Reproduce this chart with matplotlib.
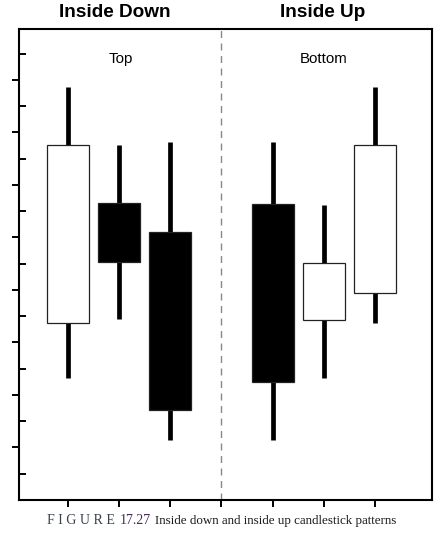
import matplotlib
matplotlib.use("Agg")
import matplotlib.pyplot as plt
from matplotlib.ticker import FixedLocator, NullFormatter

# ---- data ----
positions = [1, 2, 3, 5, 6, 7]
opens  = [3.38, 5.65, 5.10, 5.63, 3.43, 3.94]
highs  = [7.87, 6.76, 6.81, 6.81, 5.62, 7.87]
lows   = [2.32, 3.45, 1.14, 1.14, 2.33, 3.37]
closes = [6.76, 4.53, 1.71, 2.24, 4.52, 6.76]
separator = 4
group_titles = ["Inside Down", "Inside Up"]
group_title_x = [1.92, 5.97]
sub_labels = ["Top", "Bottom"]
sub_label_x = [2.03, 6.0]
xticks = [1, 2, 3, 4, 5, 6, 7]
major_yticks = [1, 2, 3, 4, 5, 6, 7, 8]
minor_yticks = [0.5, 1.5, 2.5, 3.5, 4.5, 5.5, 6.5, 7.5, 8.5]
caption_parts = ["F I G U R E", "17.27", "Inside down and inside up candlestick patterns"]

fig = plt.figure(figsize=(4.42, 5.37), dpi=100)
ax = fig.add_axes([19/442, 37/537, 412.5/442, 471/537])

width = 0.82
for x, o, h, l, c in zip(positions, opens, highs, lows, closes):
    ax.vlines(x, l, h, color="black", linewidth=3.4, zorder=1)
    bottom = min(o, c)
    height = abs(c - o)
    face = "white" if c > o else "black"
    ax.bar(x, height, width=width, bottom=bottom, color=face,
           edgecolor="#222222", linewidth=0.9, zorder=2)

ax.axvline(separator, color="#888888", linestyle=(0, (5, 4)), linewidth=1.0, zorder=0)

ax.set_xlim(0.05, 8.1)
ax.set_ylim(0, 8.97)

ax.set_xticks(xticks)
ax.xaxis.set_major_formatter(NullFormatter())
ax.tick_params(axis="x", direction="out", length=5, width=1.4, color="black")

ax.yaxis.set_major_locator(FixedLocator(major_yticks))
ax.yaxis.set_minor_locator(FixedLocator(minor_yticks))
ax.yaxis.set_major_formatter(NullFormatter())
ax.yaxis.set_minor_formatter(NullFormatter())
ax.tick_params(axis="y", which="major", direction="out", length=5, width=1.4)
ax.tick_params(axis="y", which="minor", direction="in", length=5, width=1.4)

for s in ax.spines.values():
    s.set_linewidth(1.5)

# group titles above axes
for t, xv in zip(group_titles, group_title_x):
    ax.text(xv, 1.0 + 12/471, t, transform=ax.get_xaxis_transform(),
            ha="center", va="baseline", fontsize=13.7, fontweight="bold",
            family="Liberation Sans")

for t, xv in zip(sub_labels, sub_label_x):
    ax.text(xv, (500 - 62.7) / 52.5, t, ha="center", va="baseline",
            fontsize=10.8, family="Liberation Sans")

# caption
t1 = fig.text(47/442, 1 - 524/537, caption_parts[0], fontsize=10,
              family="Liberation Serif", color="#3a3f4a", ha="left", va="baseline")
t2 = fig.text(0, 0, caption_parts[1], fontsize=10, family="Liberation Serif",
              color="#4a2c5a", ha="left", va="baseline")
t3 = fig.text(0, 0, caption_parts[2], fontsize=9.4, family="Liberation Serif",
              color="#1a1a1a", ha="left", va="baseline")
fig.canvas.draw()
r = fig.canvas.get_renderer()
bb1 = t1.get_window_extent(r)
t2.set_position(((bb1.x1 + 5) / fig.bbox.width, 1 - 524/537))
fig.canvas.draw()
bb2 = t2.get_window_extent(r)
t3.set_position(((bb2.x1 + 4) / fig.bbox.width, 1 - 524/537))

fig.savefig("out.png", dpi=100)
